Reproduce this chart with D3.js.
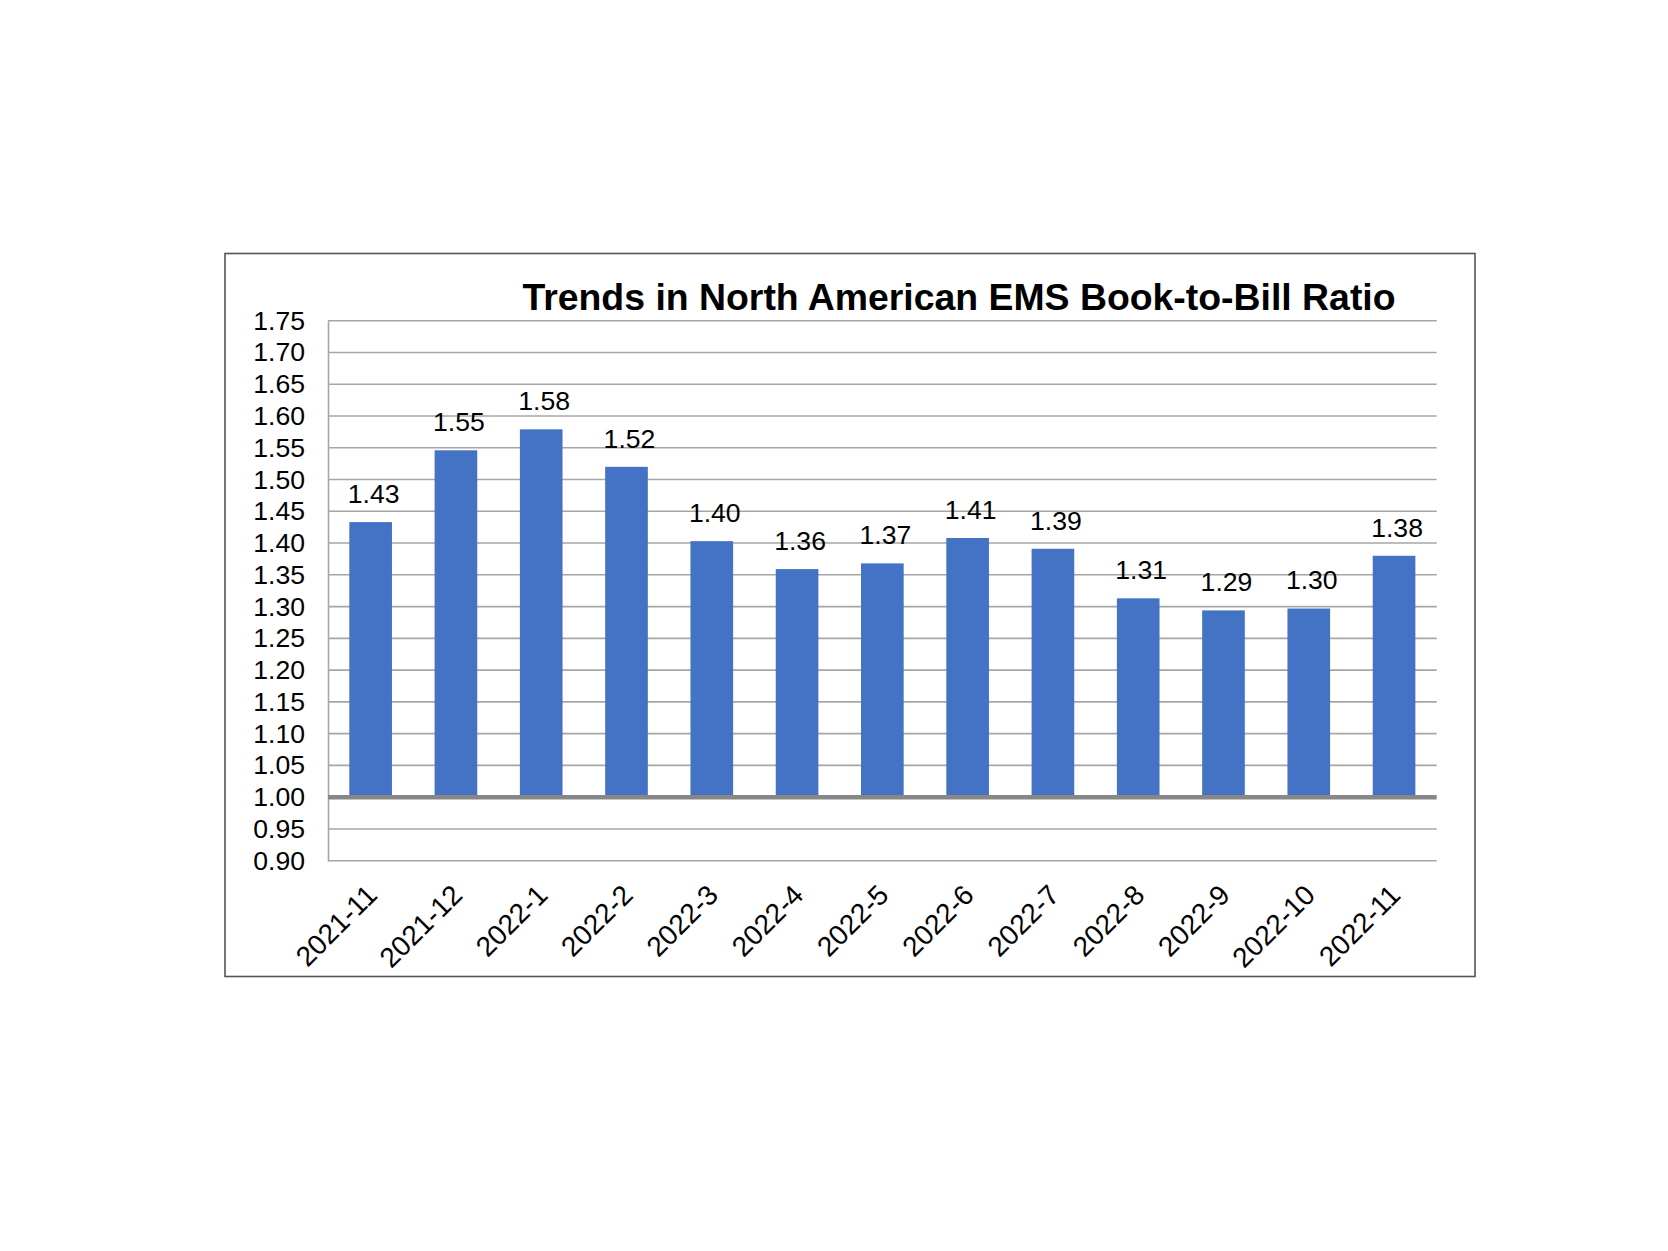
<!DOCTYPE html>
<html>
<head>
<meta charset="utf-8">
<script src="https://cdn.jsdelivr.net/npm/d3@7"></script>
<style>
  html, body { margin: 0; padding: 0; background: #ffffff; }
  svg { display: block; }
  text { font-family: "Liberation Sans", Arial, sans-serif; }
</style>
</head>
<body>
<svg id="chart" width="1668" height="1251"></svg>
<script>
const titleText = "Trends in North American EMS Book-to-Bill Ratio";
const categories = ["2021-11","2021-12","2022-1","2022-2","2022-3","2022-4","2022-5","2022-6","2022-7","2022-8","2022-9","2022-10","2022-11"];
const ratios = [1.433, 1.546, 1.579, 1.52, 1.403, 1.359, 1.368, 1.408, 1.391, 1.313, 1.294, 1.297, 1.38];
const yTicks = [0.90, 0.95, 1.00, 1.05, 1.10, 1.15, 1.20, 1.25, 1.30, 1.35, 1.40, 1.45, 1.50, 1.55, 1.60, 1.65, 1.70, 1.75];
const baseValue = 1.00;

(function () {
const svg = d3.select("#chart");
const fmt = d3.format(".2f");
const FONT = '"Liberation Sans", Arial, sans-serif';

// outer frame
svg.append("rect")
  .attr("x", 225).attr("y", 253.5)
  .attr("width", 1250).attr("height", 723)
  .attr("fill", "#ffffff")
  .attr("stroke", "#555555").attr("stroke-width", 1.6);

const pLeft = 328, pRight = 1436.7, pTop = 320.7, pBottom = 860.7;

const x = d3.scaleBand().domain(categories).range([pLeft, pRight]).paddingInner(0.5).paddingOuter(0.25);
const y = d3.scaleLinear().domain([0.90, 1.75]).range([pBottom, pTop]);

// gridlines
svg.append("g").selectAll("line").data(yTicks.filter(t => Math.abs(t - baseValue) > 1e-9)).join("line")
  .attr("x1", pLeft).attr("x2", pRight)
  .attr("y1", d => y(d)).attr("y2", d => y(d))
  .attr("stroke", "#a6a6a6").attr("stroke-width", 1.6);

// y axis
const yAxis = d3.axisLeft(y).tickValues(yTicks).tickFormat(fmt).tickSize(0).tickPadding(23);
const yg = svg.append("g").attr("transform", `translate(${pLeft},0)`).call(yAxis);
yg.select(".domain").attr("stroke", "#a6a6a6").attr("stroke-width", 1.6);
yg.selectAll("text").attr("font-size", 26.6).attr("fill", "#000").attr("font-family", FONT);

// bars
svg.append("g").selectAll("rect").data(ratios).join("rect")
  .attr("x", (d, i) => x(categories[i]))
  .attr("width", x.bandwidth())
  .attr("y", d => y(d))
  .attr("height", d => y(baseValue) - y(d))
  .attr("fill", "#4472c4");

// base line at 1.00
svg.append("line")
  .attr("x1", pLeft).attr("x2", pRight)
  .attr("y1", y(baseValue)).attr("y2", y(baseValue))
  .attr("stroke", "#878787").attr("stroke-width", 4.5);

// data labels
svg.append("g").selectAll("text").data(ratios).join("text")
  .attr("x", (d, i) => x(categories[i]) + x.bandwidth() / 2 + 3)
  .attr("y", d => y(d) - 19)
  .attr("text-anchor", "middle")
  .attr("font-size", 26.6).attr("fill", "#000")
  .text(d => fmt(d));

// x axis labels (rotated)
const xAxis = d3.axisBottom(x).tickSize(0).tickPadding(0);
const xg = svg.append("g").attr("transform", `translate(0,${pBottom})`).call(xAxis);
xg.select(".domain").remove();
xg.selectAll("text")
  .attr("font-size", 28).attr("fill", "#000")
  .attr("font-family", FONT)
  .attr("text-anchor", "end")
  .attr("dy", null)
  .attr("y", 0)
  .attr("transform", "translate(8,36) rotate(-45)");

// title
svg.append("text")
  .attr("x", 959).attr("y", 310)
  .attr("text-anchor", "middle")
  .attr("font-size", 37.4).attr("font-weight", "bold").attr("fill", "#000")
  .text(titleText);
})();
</script>
</body>
</html>
